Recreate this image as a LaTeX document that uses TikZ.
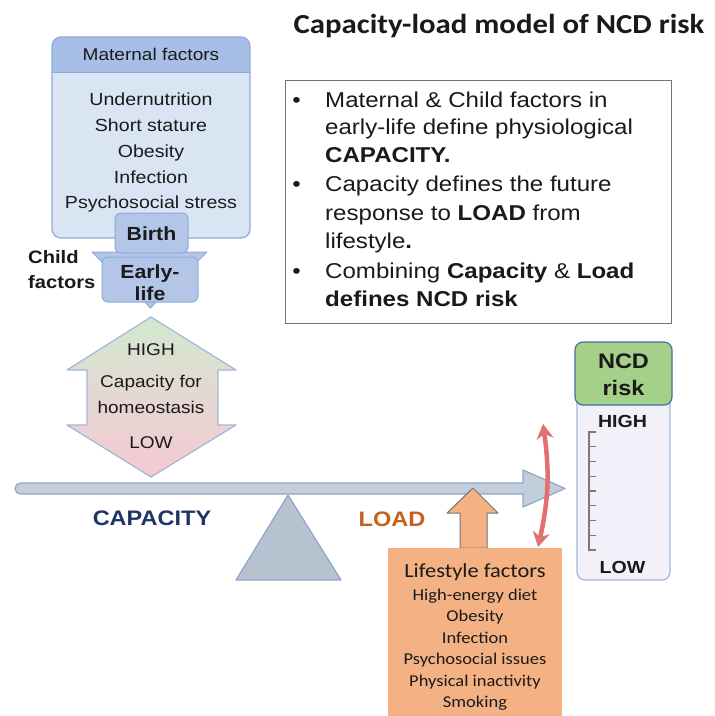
\documentclass[tikz,border=0pt]{standalone}
\usepackage{fontspec}
\setmainfont{Liberation Sans}
\newfontfamily\af[FakeStretch=1.12]{Liberation Sans}
\newfontfamily\cf[FakeStretch=1.12]{Carlito}
\usetikzlibrary{arrows.meta,bending}
\newcommand{\fsz}[1]{\fontsize{#1}{#1}\selectfont}
\definecolor{mhead}{HTML}{A7BFE6}
\definecolor{mbody}{HTML}{DAE5F3}
\definecolor{mline}{HTML}{8FAAD6}
\definecolor{bbox}{HTML}{B3C6E8}
\definecolor{gtop}{HTML}{D2E8CF}
\definecolor{gbot}{HTML}{F6C8D4}
\definecolor{levc}{HTML}{C3CEDC}
\definecolor{levl}{HTML}{8FA6C9}
\definecolor{fulc}{HTML}{B6C2CF}
\definecolor{navy}{HTML}{1F3566}
\definecolor{loadc}{HTML}{C5611B}
\definecolor{orng}{HTML}{F4B183}
\definecolor{redarr}{HTML}{E46F6F}
\definecolor{ncdg}{HTML}{A5D08A}
\definecolor{ncdline}{HTML}{41709F}
\definecolor{ncdbody}{HTML}{F2F1F9}
\definecolor{txtc}{HTML}{1A1A1A}
\definecolor{tickc}{HTML}{7A7A7A}
\begin{document}
\begin{tikzpicture}[x=1pt,y=-1pt,
  txt/.style={inner sep=0pt, anchor=base, text=txtc},
  ltxt/.style={inner sep=0pt, anchor=base west, text=txtc},
  bluebox/.style={draw=mline, fill=bbox, line width=1pt, rounded corners=6pt}]
\useasboundingbox (0,0) rectangle (715,716);
\fill[white] (0,0) rectangle (715,716);

% title
\node[txt] (title) at (499,33) {\cf\fsz{27.5}\bfseries Capacity-load model of NCD risk};

% maternal box
\begin{scope}
\clip[rounded corners=9pt] (52,37) rectangle (250,238);
\fill[mbody] (52,37) rectangle (250,238);
\fill[mhead] (52,37) rectangle (250,72);
\end{scope}
\draw[mline, line width=1pt] (52,72) -- (250,72);
\draw[mline, line width=1.2pt, rounded corners=9pt] (52,37) rectangle (250,238);
\node[txt] (mh) at (151,60) {\af\fsz{17}Maternal factors};
\node[txt] (m1) at (151,105) {\af\fsz{17.5}Undernutrition};
\node[txt] (m2) at (151,131) {\af\fsz{17.5}Short stature};
\node[txt] (m3) at (151,157) {\af\fsz{17.5}Obesity};
\node[txt] (m4) at (151,183) {\af\fsz{17.5}Infection};
\node[txt] (m5) at (151,208) {\af\fsz{17.5}Psychosocial stress};

% birth / early life
\draw[draw=mline, fill=bbox, line width=1pt, line join=round] (92,252) -- (207,252) -- (197,262) -- (102,262) -- cycle;
\draw[bluebox] (102,257) rectangle (198,302);
\draw[draw=mline, fill=bbox, line width=1pt, line join=round] (145,302) -- (156,302) -- (150.5,308) -- cycle;
\draw[bluebox] (115,213) rectangle (188,253);
\node[txt] (birth) at (151.5,240) {\af\fsz{19}\bfseries Birth};
\node[txt] (early) at (150,278) {\af\fsz{19}\bfseries Early-};
\node[txt] (life) at (150,300) {\af\fsz{19}\bfseries life};
\node[ltxt] (child) at (28,263) {\af\fsz{18}\bfseries Child};
\node[ltxt] (factors) at (28,288) {\af\fsz{18}\bfseries factors};

% capacity double arrow
\shade[top color=gtop, bottom color=gbot] (151,317) -- (236,370) -- (218,370) -- (218,425) -- (236,425) -- (151,477) -- (67,425) -- (87,425) -- (87,370) -- (67,370) -- cycle;
\draw[mline!85, line width=1.2pt, line join=round] (151,317) -- (236,370) -- (218,370) -- (218,425) -- (236,425) -- (151,477) -- (67,425) -- (87,425) -- (87,370) -- (67,370) -- cycle;
\node[txt] (chigh) at (151,355) {\af\fsz{17}HIGH};
\node[txt] (cap1) at (151,387) {\af\fsz{17}Capacity for};
\node[txt] (cap2) at (151,413) {\af\fsz{17}homeostasis};
\node[txt] (clow) at (151,448) {\af\fsz{17}LOW};

% fulcrum
\draw[fill=fulc, draw=levl, line width=1.2pt, line join=round] (288,495) -- (341,580) -- (236,580) -- cycle;

% lever arrow
\draw[fill=levc, draw=levl, line width=1.2pt, line join=round]
  (20.5,483) -- (523,483) -- (523,470) -- (565,488.5) -- (523,507) -- (523,494) -- (20.5,494)
  arc[start angle=90, end angle=270, radius=5.5] -- cycle;

\node[txt, text=navy] (capacity) at (152,525) {\af\fsz{21}\bfseries CAPACITY};
\node[txt, text=loadc] (load) at (392,526) {\af\fsz{21}\bfseries LOAD};

% orange arrow and lifestyle box
\draw[fill=orng, draw=black!55, line width=1pt, line join=round] (473,488) -- (498,513) -- (487,513) -- (487,548) -- (460,548) -- (460,513) -- (447,513) -- cycle;
\fill[orng] (388,548) rectangle (562,716);
\node[txt] (lf) at (475,577) {\cf\fsz{20}Lifestyle factors};
\node[txt] (l1) at (475,600) {\cf\fsz{16.5}High-energy diet};
\node[txt] (l2) at (475,621.5) {\cf\fsz{16.5}Obesity};
\node[txt] (l3) at (475,643) {\cf\fsz{16.5}Infection};
\node[txt] (l4) at (475,664.5) {\cf\fsz{16.5}Psychosocial issues};
\node[txt] (l5) at (475,686) {\cf\fsz{16.5}Physical inactivity};
\node[txt] (l6) at (475,707.5) {\cf\fsz{16.5}Smoking};

% red curved double arrow
\coordinate (rtop) at (543,424);
\coordinate (rbot) at (538,547);
\draw[redarr, line width=4.5pt, {Stealth[length=15pt,width=17pt,bend]}-{Stealth[length=15pt,width=17pt,bend]}] (rtop) to[bend left=11] (rbot);

% NCD risk
\draw[fill=ncdbody, draw=mline!85, line width=1.2pt, rounded corners=8pt] (577,395) rectangle (670,580);
\draw[fill=ncdg, draw=ncdline, line width=1.2pt, rounded corners=8pt] (575,342) rectangle (672,405);
\node[txt] (ncd1) at (623.5,368) {\af\fsz{21}\bfseries NCD};
\node[txt] (ncd2) at (623.5,395) {\af\fsz{21}\bfseries risk};
\node[txt] (nhigh) at (622.5,427) {\af\fsz{17.5}\bfseries HIGH};
\node[txt] (nlow) at (622.5,573) {\af\fsz{17.5}\bfseries LOW};
\draw[tickc, line width=1.4pt] (596,432) -- (589,432) -- (589,550) -- (596,550);
\foreach \i in {1,...,7} {\draw[tickc, line width=1.4pt] (589,432+\i*14.75) -- (596,432+\i*14.75);}

% text box
\draw[draw=black!55, line width=0.8pt, fill=white] (285,80) rectangle (671,323);
\node[txt] (b1) at (296.5,107) {\af\fsz{21.5}•};
\node[txt] (b2) at (296.5,191) {\af\fsz{21.5}•};
\node[txt] (b3) at (296.5,278) {\af\fsz{21.5}•};
\node[ltxt] (t1) at (325,107) {\af\fsz{21.5}Maternal \& Child factors in};
\node[ltxt] (t2) at (325,134.5) {\af\fsz{21.5}early-life define physiological};
\node[ltxt] (t3) at (325,162) {\af\fsz{21.5}\bfseries CAPACITY.};
\node[ltxt] (t4) at (325,191) {\af\fsz{21.5}Capacity defines the future};
\node[ltxt] (t5) at (325,220) {\af\fsz{21.5}response to \textbf{LOAD} from};
\node[ltxt] (t6) at (325,248) {\af\fsz{21.5}lifestyle\textbf{.}};
\node[ltxt] (t7) at (325,278) {\af\fsz{21.5}Combining \textbf{Capacity} \& \textbf{Load}};
\node[ltxt] (t8) at (325,306) {\af\fsz{21.5}\bfseries defines NCD risk};
\end{tikzpicture}
\end{document}
